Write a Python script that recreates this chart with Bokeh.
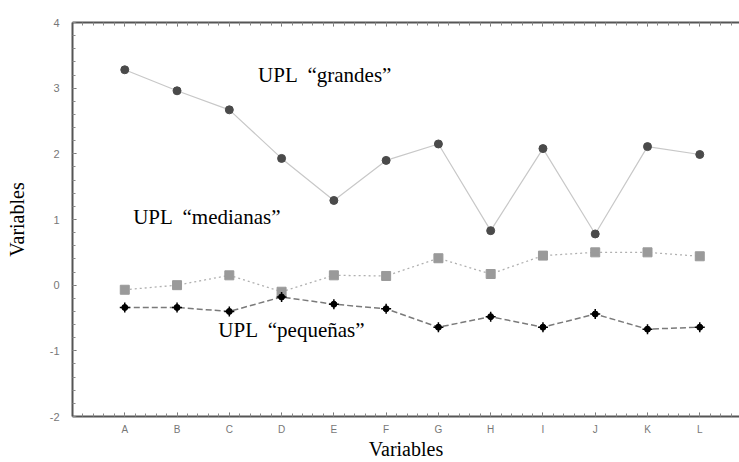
from bokeh.plotting import figure
from bokeh.models import (ColumnDataSource, FixedTicker, LinearAxis, Label, Range1d)
from bokeh.embed import file_html
from bokeh.resources import INLINE

categories = ["A", "B", "C", "D", "E", "F", "G", "H", "I", "J", "K", "L"]
grandes = [3.28, 2.96, 2.67, 1.93, 1.29, 1.90, 2.15, 0.83, 2.08, 0.78, 2.11, 1.99]
medianas = [-0.07, 0.00, 0.15, -0.10, 0.15, 0.14, 0.41, 0.17, 0.45, 0.50, 0.50, 0.44]
pequenas = [-0.34, -0.34, -0.40, -0.18, -0.29, -0.36, -0.64, -0.48, -0.64, -0.44, -0.67, -0.64]
y_ticks = [-2, -1, 0, 1, 2, 3, 4]
label_texts = ["UPL \u00a0\u201cgrandes\u201d", "UPL \u00a0\u201cmedianas\u201d", "UPL \u00a0\u201cpeque\u00f1as\u201d"]
label_x = [2.55, 0.16, 1.79]
label_y = [3.20, 1.04, -0.69]

xs = list(range(len(categories)))
src = ColumnDataSource(dict(x=xs, g=grandes, m=medianas, p=pequenas))

p = figure(width=739, height=462, output_backend="svg", toolbar_location=None,
           x_range=Range1d(-1, 11.76), y_range=Range1d(-2, 4),
           min_border_left=72, min_border_top=22, min_border_right=0, min_border_bottom=0)
p.outline_line_color = None
p.grid.visible = False
p.background_fill_color = "white"
p.border_fill_color = "white"

minor_x = [i * 0.2 for i in range(-5, 60)]

xax = p.xaxis[0]
xax.ticker = FixedTicker(ticks=xs, minor_ticks=minor_x)
xax.major_label_overrides = {i: c for i, c in enumerate(categories)}
yax = p.yaxis[0]
yax.ticker = FixedTicker(ticks=y_ticks, minor_ticks=[i * 0.2 for i in range(-10, 21)])
yax.major_label_overrides = {t: str(t) for t in y_ticks}

for ax in (xax, yax):
    ax.axis_line_color = "#555555"
    ax.axis_line_width = 2
    ax.major_tick_line_color = "#666666"
    ax.minor_tick_line_color = "#888888"
    ax.major_tick_in = 4
    ax.major_tick_out = 0
    ax.minor_tick_in = 3
    ax.minor_tick_out = 0
    ax.major_label_text_color = "#777777"
    ax.major_label_text_font = "Liberation Sans"
    ax.major_label_text_font_size = "11px"
    ax.axis_label = "Variables"
    ax.axis_label_text_font = "Liberation Serif"
    ax.axis_label_text_font_style = "normal"
    ax.axis_label_text_font_size = "20px"
    ax.axis_label_text_color = "black"
xax.major_label_text_font_size = "10px"
xax.major_label_standoff = 7
xax.axis_label_standoff = 0
yax.major_label_standoff = 13
yax.axis_label_standoff = 19

top = LinearAxis(ticker=FixedTicker(ticks=xs, minor_ticks=minor_x))
top.major_label_text_font_size = "0px"
top.major_label_text_color = None
top.axis_line_color = "#555555"
top.axis_line_width = 2
top.major_tick_line_color = "#666666"
top.minor_tick_line_color = "#888888"
top.major_tick_in = 4
top.major_tick_out = 0
top.minor_tick_in = 3
top.minor_tick_out = 0
top.major_label_standoff = 0
p.add_layout(top, "above")

# grandes
p.line("x", "g", source=src, line_color="#c8c8c8", line_width=1.2)
p.scatter("x", "g", source=src, marker="circle", size=8, fill_color="#4a4a4a",
          line_color="#4a4a4a")
# medianas
p.line("x", "m", source=src, line_color="#b0b0b0", line_width=1.3, line_dash="2 3")
p.scatter("x", "m", source=src, marker="square", size=9, fill_color="#9a9a9a",
          line_color="#9a9a9a")
# pequenas
p.line("x", "p", source=src, line_color="#7a7a7a", line_width=1.5, line_dash="6 3")
p.scatter("x", "p", source=src, marker="circle", size=6, fill_color="black",
          line_color="black")
p.scatter("x", "p", source=src, marker="cross", size=10, line_color="black",
          line_width=1.5)

for t, lx, ly in zip(label_texts, label_x, label_y):
    p.add_layout(Label(x=lx, y=ly, text=t, text_font="Liberation Serif",
                       text_font_size="21px", text_color="black",
                       text_baseline="middle", text_align="left"))

open("out.html", "w").write(file_html(p, INLINE))
